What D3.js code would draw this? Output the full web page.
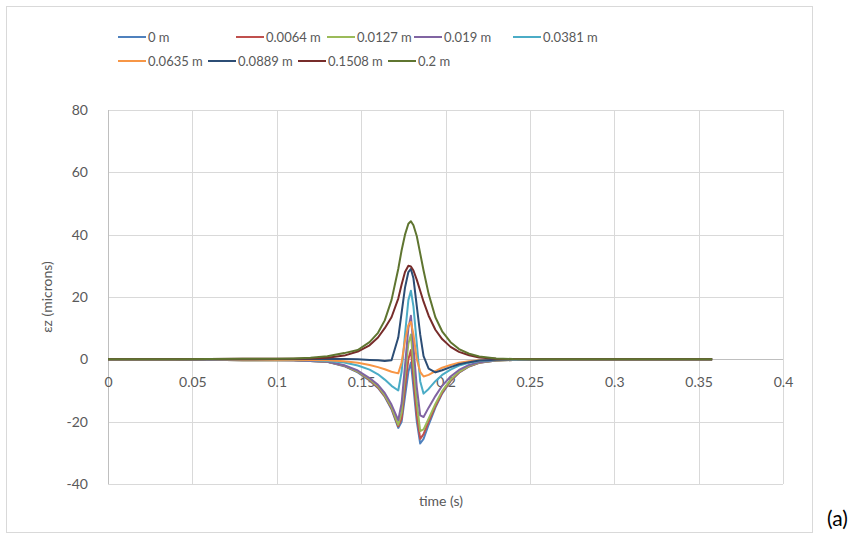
<!DOCTYPE html>
<html><head><meta charset="utf-8">
<script src="https://cdn.jsdelivr.net/npm/d3@7"></script>
<style>
body{margin:0;background:#fff;}
svg text{font-family:Lato,"Open Sans",sans-serif;}
</style></head><body>
<svg id="chart" width="867" height="538"></svg>
<script>
// time samples (s)
const timeS = [0, 0.02, 0.04, 0.06, 0.08, 0.1, 0.11, 0.12, 0.13, 0.14, 0.148, 0.155, 0.16, 0.164, 0.168, 0.172, 0.174, 0.176, 0.178, 0.1795, 0.181, 0.183, 0.185, 0.187, 0.19, 0.194, 0.198, 0.203, 0.208, 0.214, 0.22, 0.23, 0.24, 0.26, 0.28, 0.3, 0.33, 0.358];

const seriesLabels = ["0 m", "0.0064 m", "0.0127 m", "0.019 m", "0.0381 m", "0.0635 m", "0.0889 m", "0.1508 m", "0.2 m"];

// vertical strain εz (microns) at each offset
const ez_0 = [0,0,0,-0.1,-0.3, -0.2,-0.3,-0.5,-0.8,-2.2, -4.2,-6.8,-9.2,-12,-16, -22,-20,-12,-4,-1, -9,-20,-27,-25.5,-21, -15.5,-11,-7,-4.3,-2.3, -1.1,-0.4,-0.2,0,0, 0,0,0];
const ez_0064 = [0,0,0,-0.1,-0.3, -0.2,-0.3,-0.5,-0.8,-2.1, -4,-6.6,-9,-11.8,-15.7, -21.5,-19,-9,0,3, -6,-18,-25.5,-24,-20, -15,-10.7,-6.8,-4.2,-2.2, -1.1,-0.4,-0.2,0,0, 0,0,0];
const ez_0127 = [0,0,0,-0.1,-0.3, -0.2,-0.3,-0.5,-0.8,-2, -3.9,-6.4,-8.7,-11.5,-15.3, -21,-17,-5,5,8, -2,-14,-23,-22.5,-19, -14.3,-10.2,-6.5,-4,-2.1, -1,-0.4,-0.2,0,0, 0,0,0];
const ez_019 = [0,0,0,-0.1,-0.2, -0.2,-0.3,-0.5,-0.8,-1.9, -3.6,-6,-8.2,-10.8,-14.5, -19.5,-14,-2,10,14, 4,-9,-18,-18.5,-15.5, -11.8,-8.5,-5.5,-3.4,-1.8, -0.9,-0.3,-0.1,0,0, 0,0,0];
const ez_0381 = [0,0,0,0,-0.1, -0.1,-0.2,-0.3,-0.5,-1, -2,-3.3,-4.8,-6.5,-8.5, -10,-4,8,19,22, 17,5,-7,-11,-9.5, -7,-5,-3.3,-2,-1.1, -0.5,-0.2,-0.1,0,0, 0,0,0];
const ez_0635 = [0,0,0,0,-0.1, -0.1,-0.1,-0.2,-0.3,-0.6, -1.1,-1.8,-2.5,-3.2,-4, -4.5,-1,6,11,12, 8,0,-4,-5.5,-5, -3.8,-2.7,-1.8,-1.1,-0.6, -0.3,-0.1,0,0,0, 0,0,0];
const ez_0889 = [0,0,0,0,0, 0.1,0.1,0.1,0.1,0.1, 0,-0.2,-0.3,-0.5,-0.3, 7,15,23,28,29, 26,17,8,1,-3, -4.2,-3.5,-2.5,-1.6,-0.9, -0.4,-0.1,0,0,0, 0,0,0];
const ez_1508 = [0,0,0,0.1,0.2, 0.2,0.2,0.3,0.5,1.2, 2.5,4.5,7,10,13.5, 19.5,24,28,30,29.8, 28.5,25.5,22,18.5,14, 9.5,6.5,4,2.4,1.3, 0.6,0.2,0.1,0,0, 0,0,0];
const ez_2 = [0,0,0,0.1,0.2, 0.2,0.3,0.5,1,2, 3,5.5,8.5,12.5,19, 29,35,40,43.5,44.3, 43,39.5,34,28.5,21, 13.5,9,5.5,3.3,1.8, 0.9,0.3,0.1,0,0, 0,0,0];

const xTickValues = [0, 0.05, 0.1, 0.15, 0.2, 0.25, 0.3, 0.35, 0.4];
const xTickLabels = ["0", "0.05", "0.1", "0.15", "0.2", "0.25", "0.3", "0.35", "0.4"];
const yTickValues = [-40, -20, 0, 20, 40, 60, 80];
const yTickLabels = ["-40", "-20", "0", "20", "40", "60", "80"];

const seriesValues = [ez_0, ez_0064, ez_0127, ez_019, ez_0381, ez_0635, ez_0889, ez_1508, ez_2];
const palette = ["#4F81BD", "#C0504D", "#9BBB59", "#8064A2", "#4BACC6", "#F79646", "#2C4D75", "#772C2A", "#5F7530"];

// legend placement: line start x and row
const legendSlots = [[118,0],[236,0],[327,0],[414,0],[513,0],[118,1],[208,1],[298,1],[388,1]];

const svg = d3.select("#chart");
const textColor = "#595959";
const gridColor = "#d9d9d9";
const fontSize = "14px";

// chart frame
svg.append("rect").attr("x", 6.5).attr("y", 6.5).attr("width", 806).attr("height", 526)
  .attr("fill", "#fff").attr("stroke", gridColor).attr("stroke-width", 1);

const x = d3.scaleLinear().domain([0, 0.4]).range([108, 783]);
const y = d3.scaleLinear().domain([-40, 80]).range([484, 110]);

// gridlines
const grid = svg.append("g");
grid.selectAll("line.h").data(yTickValues).join("line")
  .attr("x1", x(0)).attr("x2", x(0.4))
  .attr("y1", d => Math.round(y(d)) + 0.5).attr("y2", d => Math.round(y(d)) + 0.5)
  .attr("stroke", gridColor).attr("stroke-width", 1);
grid.selectAll("line.v").data(xTickValues).join("line")
  .attr("x1", d => Math.round(x(d)) + 0.5).attr("x2", d => Math.round(x(d)) + 0.5)
  .attr("y1", y(80)).attr("y2", y(-40))
  .attr("stroke", gridColor).attr("stroke-width", 1);

// axis lines
svg.append("line").attr("x1", Math.round(x(0)) + 0.5).attr("x2", Math.round(x(0)) + 0.5)
  .attr("y1", y(80)).attr("y2", y(-40)).attr("stroke", "#bfbfbf");
svg.append("line").attr("x1", x(0)).attr("x2", x(0.4))
  .attr("y1", Math.round(y(0)) + 0.5).attr("y2", Math.round(y(0)) + 0.5).attr("stroke", "#bfbfbf");

// tick labels via d3 axes
const xAxis = d3.axisBottom(x).tickValues(xTickValues)
  .tickFormat((d, i) => xTickLabels[i]).tickSize(0).tickPadding(18);
const gx = svg.append("g").attr("transform", `translate(0,${Math.round(y(0))})`).call(xAxis);
gx.select(".domain").remove();
gx.selectAll("text").attr("fill", textColor).style("font-size", fontSize).style("font-family", "Lato, sans-serif");

const yAxis = d3.axisLeft(y).tickValues(yTickValues)
  .tickFormat((d, i) => yTickLabels[i]).tickSize(0).tickPadding(20);
const gy = svg.append("g").attr("transform", `translate(${x(0)},0)`).call(yAxis);
gy.select(".domain").remove();
gy.selectAll("text").attr("fill", textColor).style("font-size", fontSize).style("font-family", "Lato, sans-serif");

// series lines
const line = d3.line().x(d => x(d[0])).y(d => y(d[1]));
seriesValues.forEach((vals, i) => {
  const pts = timeS.map((t, k) => [t, vals[k]]);
  svg.append("path").datum(pts)
    .attr("d", line)
    .attr("fill", "none")
    .attr("stroke", palette[i])
    .attr("stroke-width", 2)
    .attr("stroke-linejoin", "round");
});

// axis titles
svg.append("text").attr("transform", "translate(52,297) rotate(-90)")
  .attr("text-anchor", "middle").attr("fill", textColor).style("font-size", fontSize)
  .text("εz (microns)");
svg.append("text").attr("x", 441).attr("y", 506)
  .attr("text-anchor", "middle").attr("fill", textColor).style("font-size", fontSize)
  .text("time (s)");

// legend
const leg = svg.append("g");
seriesLabels.forEach((lab, i) => {
  const [lx, row] = legendSlots[i];
  const ly = 37 + row * 24;
  leg.append("line").attr("x1", lx).attr("x2", lx + 28).attr("y1", ly).attr("y2", ly)
    .attr("stroke", palette[i]).attr("stroke-width", 2);
  leg.append("text").attr("x", lx + 30).attr("y", ly + 5)
    .attr("fill", textColor).style("font-size", "13px").text(lab);
});

// panel tag
svg.append("text").attr("x", 827).attr("y", 526).attr("fill", "#000")
  .style("font-size", "21px").text("(a)");
</script>
</body></html>
